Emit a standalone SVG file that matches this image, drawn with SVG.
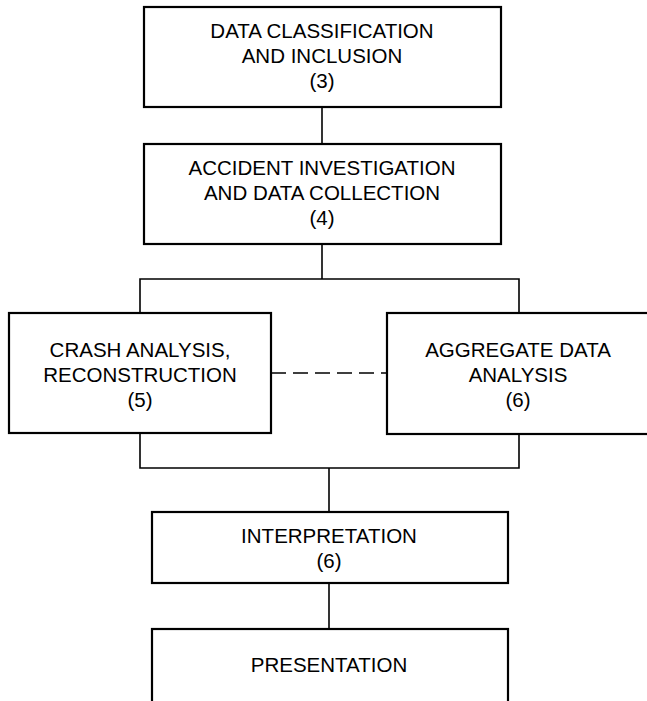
<svg xmlns="http://www.w3.org/2000/svg" width="647" height="701" viewBox="0 0 647 701">
<style>
.box{fill:#fff;stroke:#000;stroke-width:2.2}
.ln{fill:none;stroke:#000;stroke-width:1.6}
.dash{stroke-dasharray:15 7}
text{font-family:"Liberation Sans",Arial,sans-serif;font-size:20.5px;fill:#000;text-anchor:middle}
</style>
<rect width="647" height="701" fill="#fff"/>
<g id="connectors">
<line class="ln" x1="322" y1="107" x2="322" y2="144"/>
<line class="ln" x1="322" y1="244" x2="322" y2="279"/>
<polyline class="ln" points="140,313 140,279 519,279 519,313"/>
<line class="ln dash" x1="271" y1="373" x2="387" y2="373"/>
<polyline class="ln" points="140,433 140,468 519,468 519,433"/>
<line class="ln" x1="329" y1="468" x2="329" y2="512"/>
<line class="ln" x1="329" y1="583" x2="329" y2="629"/>
</g>
<g id="n3">
<rect class="box" x="144" y="7" width="357" height="100"/>
<text x="322" y="38">DATA CLASSIFICATION</text>
<text x="322" y="63">AND INCLUSION</text>
<text x="322" y="88">(3)</text>
</g>
<g id="n4">
<rect class="box" x="144" y="144" width="357" height="100"/>
<text x="322" y="175">ACCIDENT INVESTIGATION</text>
<text x="322" y="200">AND DATA COLLECTION</text>
<text x="322" y="225">(4)</text>
</g>
<g id="n5">
<rect class="box" x="9" y="313" width="262" height="120"/>
<text x="140" y="357">CRASH ANALYSIS,</text>
<text x="140" y="382">RECONSTRUCTION</text>
<text x="140" y="407">(5)</text>
</g>
<g id="n6">
<rect class="box" x="387" y="313" width="270" height="121"/>
<text x="518" y="357">AGGREGATE DATA</text>
<text x="518" y="382">ANALYSIS</text>
<text x="518" y="407">(6)</text>
</g>
<g id="interp">
<rect class="box" x="152" y="512" width="356" height="71"/>
<text x="329" y="543">INTERPRETATION</text>
<text x="329" y="568">(6)</text>
</g>
<g id="pres">
<rect class="box" x="152" y="629" width="356" height="90"/>
<text x="329" y="672">PRESENTATION</text>
</g>
</svg>
